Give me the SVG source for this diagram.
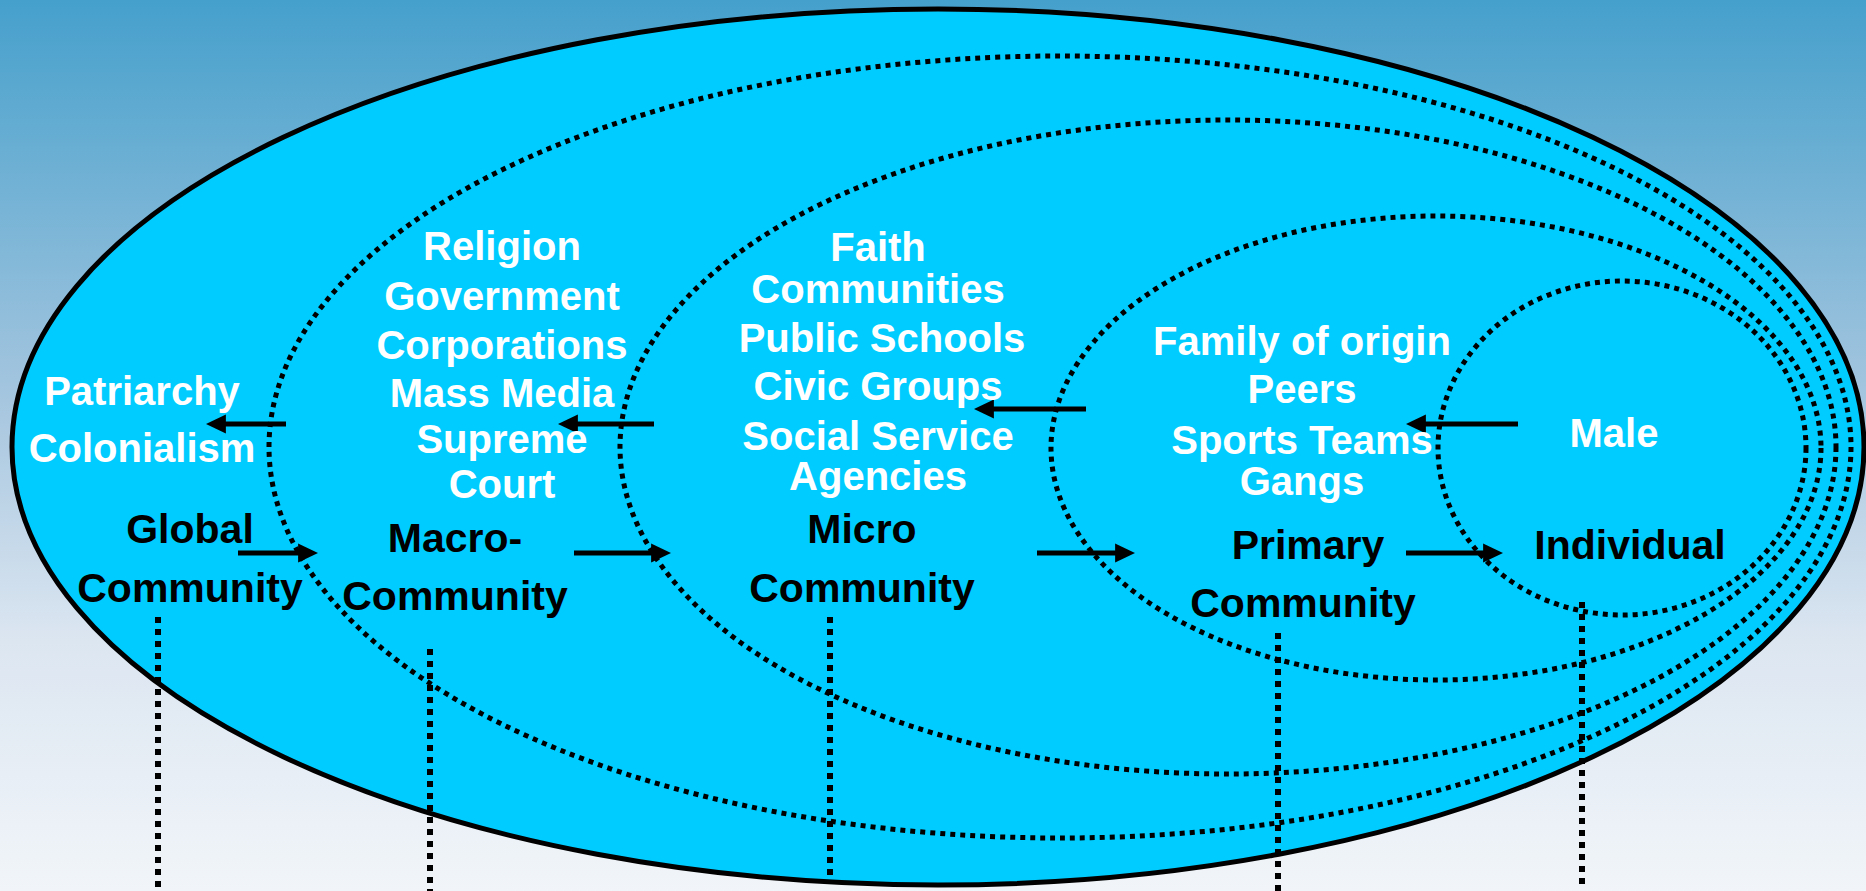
<svg xmlns="http://www.w3.org/2000/svg" width="1866" height="891" viewBox="0 0 1866 891">
  <defs>
    <linearGradient id="bg" x1="0" y1="0" x2="0" y2="1">
      <stop offset="0" stop-color="#45a0cc"/>
      <stop offset="0.45" stop-color="#a6c6df"/>
      <stop offset="0.72" stop-color="#dce6f1"/>
      <stop offset="1" stop-color="#f1f5f9"/>
    </linearGradient>
    <marker id="ah" markerUnits="userSpaceOnUse" markerWidth="20" markerHeight="20" viewBox="0 0 18 17" refX="8" refY="8.5" orient="auto">
      <path d="M0,0 L18,8.5 L0,17 z" fill="#000"/>
    </marker>
    <style>
      .ring { fill: none; stroke: #000; stroke-width: 5; stroke-dasharray: 5 5; }
      .drop { stroke: #000; stroke-width: 6; stroke-dasharray: 6 6; }
      .arr { stroke: #000; stroke-width: 5; marker-end: url(#ah); }
      .w { font-family: "Liberation Sans", Arial, sans-serif; font-weight: bold; font-size: 40px; fill: #fff; text-anchor: middle; }
      .b { font-family: "Liberation Sans", Arial, sans-serif; font-weight: bold; font-size: 41px; fill: #000; text-anchor: middle; }
    </style>
  </defs>
  <rect x="0" y="0" width="1866" height="891" fill="url(#bg)"/>

  <g id="global">
    <ellipse cx="938" cy="447" rx="926" ry="438" fill="#00ccff" stroke="#000" stroke-width="5"/>
  </g>
  <g id="macro">
    <ellipse class="ring" cx="1060" cy="447" rx="791" ry="391"/>
  </g>
  <g id="micro">
    <ellipse class="ring" cx="1228" cy="447" rx="608" ry="327"/>
  </g>
  <g id="primary">
    <ellipse class="ring" cx="1436" cy="448" rx="385" ry="232"/>
  </g>
  <g id="individual">
    <ellipse class="ring" cx="1622" cy="448" rx="184" ry="167"/>
  </g>

  <g id="connectors">
    <line class="drop" x1="158" y1="617" x2="158" y2="891"/>
    <line class="drop" x1="430" y1="649" x2="430" y2="891"/>
    <line class="drop" x1="830" y1="617" x2="830" y2="884"/>
    <line class="drop" x1="1278" y1="633" x2="1278" y2="891"/>
    <line class="drop" x1="1582" y1="602" x2="1582" y2="884"/>

    <line class="arr" x1="286" y1="424" x2="217" y2="424"/>
    <line class="arr" x1="654" y1="424" x2="569" y2="424"/>
    <line class="arr" x1="1086" y1="409" x2="985" y2="409"/>
    <line class="arr" x1="1518" y1="424" x2="1417" y2="424"/>

    <line class="arr" x1="238" y1="553" x2="307" y2="553"/>
    <line class="arr" x1="574" y1="553" x2="660" y2="553"/>
    <line class="arr" x1="1037" y1="553" x2="1124" y2="553"/>
    <line class="arr" x1="1406" y1="553" x2="1492" y2="553"/>
  </g>

  <g id="global-labels">
    <text class="w" x="142" y="405">Patriarchy</text>
    <text class="w" x="142" y="462">Colonialism</text>
    <text class="b" x="190" y="543">Global</text>
    <text class="b" x="190" y="602">Community</text>
  </g>
  <g id="macro-labels">
    <text class="w" x="502" y="260">Religion</text>
    <text class="w" x="502" y="310">Government</text>
    <text class="w" x="502" y="359">Corporations</text>
    <text class="w" x="502" y="407">Mass Media</text>
    <text class="w" x="502" y="453">Supreme</text>
    <text class="w" x="502" y="498">Court</text>
    <text class="b" x="455" y="552">Macro-</text>
    <text class="b" x="455" y="610">Community</text>
  </g>
  <g id="micro-labels">
    <text class="w" x="878" y="261">Faith</text>
    <text class="w" x="878" y="303">Communities</text>
    <text class="w" x="882" y="352">Public Schools</text>
    <text class="w" x="878" y="400">Civic Groups</text>
    <text class="w" x="878" y="450">Social Service</text>
    <text class="w" x="878" y="490">Agencies</text>
    <text class="b" x="862" y="543">Micro</text>
    <text class="b" x="862" y="602">Community</text>
  </g>
  <g id="primary-labels">
    <text class="w" x="1302" y="355">Family of origin</text>
    <text class="w" x="1302" y="403">Peers</text>
    <text class="w" x="1302" y="454">Sports Teams</text>
    <text class="w" x="1302" y="495">Gangs</text>
    <text class="b" x="1308" y="559">Primary</text>
    <text class="b" x="1303" y="617">Community</text>
  </g>
  <g id="individual-labels">
    <text class="w" x="1614" y="447">Male</text>
    <text class="b" x="1630" y="559">Individual</text>
  </g>
</svg>
